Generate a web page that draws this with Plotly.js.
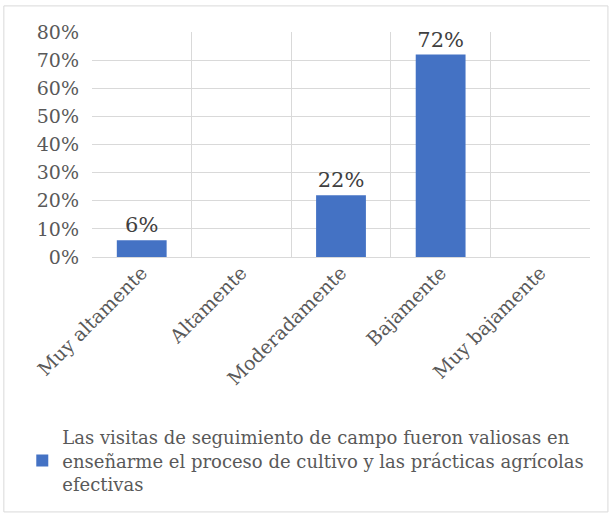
<!DOCTYPE html>
<html>
<head>
<meta charset="utf-8">
<script src="https://cdn.plot.ly/plotly-3.0.1.min.js"></script>
<style>html,body{margin:0;padding:0;background:#fff;}#chart{width:613px;height:518px;}</style>
</head>
<body>
<div id="chart"></div>
<script>
const categories = ["Muy altamente", "Altamente", "Moderadamente", "Bajamente", "Muy bajamente"];
const values = [0.06, 0, 0.22, 0.72, 0];
const seriesName = "Las visitas de seguimiento de campo fueron valiosas en<br>enseñarme el proceso de cultivo y las prácticas agrícolas<br>efectivas";
const yTickVals = [0, 0.1, 0.2, 0.3, 0.4, 0.5, 0.6, 0.7, 0.8];
const yTickText = ["0%", "10%", "20%", "30%", "40%", "50%", "60%", "70%", "80%"];

const labels = values.map(v => v > 0 ? Math.round(v * 100) + "%" : "");
const FONT = "DejaVu Serif, Liberation Serif, serif";

const trace = {
  type: "bar",
  x: categories,
  y: values,
  name: seriesName,
  text: labels,
  textposition: "outside",
  cliponaxis: false,
  textfont: {family: FONT, size: 21, color: "#404040"},
  marker: {color: "#4472C4"},
  showlegend: true,
  hoverinfo: "x+y"
};

const layout = {
  width: 613,
  height: 518,
  margin: {l: 92, r: 23, t: 32, b: 261},
  paper_bgcolor: "#ffffff",
  plot_bgcolor: "#ffffff",
  bargap: 0.5,
  font: {family: FONT, color: "#595959"},
  xaxis: {
    type: "category",
    tickson: "boundaries",
    range: [-0.499, 4.499],
    showgrid: true,
    gridcolor: "#d9d9d9",
    gridwidth: 1,
    ticks: "",
    tickangle: -45,
    tickfont: {family: FONT, size: 19, color: "#595959"},
    showline: false,
    zeroline: false
  },
  yaxis: {
    range: [0, 0.8],
    tickvals: yTickVals,
    ticktext: yTickText,
    showgrid: true,
    gridcolor: "#d9d9d9",
    gridwidth: 1,
    zeroline: true,
    zerolinecolor: "#d9d9d9",
    zerolinewidth: 1,
    tickfont: {family: FONT, size: 19, color: "#595959"},
    ticks: "",
    ticklabelstandoff: 12,
    showline: false
  },
  showlegend: true,
  legend: {
    orientation: "h",
    x: -0.14,
    xanchor: "left",
    y: -0.72,
    yanchor: "top",
    font: {family: FONT, size: 18, color: "#595959"},
    itemwidth: 30,
    bgcolor: "rgba(0,0,0,0)"
  },
  shapes: [{
    type: "rect",
    xref: "paper", yref: "paper",
    x0: -0.177, x1: 1.036,
    y0: -1.133, y1: 1.116,
    line: {color: "#d9d9d9", width: 1},
    fillcolor: "rgba(0,0,0,0)",
    layer: "below"
  }]
};

Plotly.newPlot("chart", [trace], layout, {displayModeBar: false, staticPlot: true});
</script>
</body>
</html>
